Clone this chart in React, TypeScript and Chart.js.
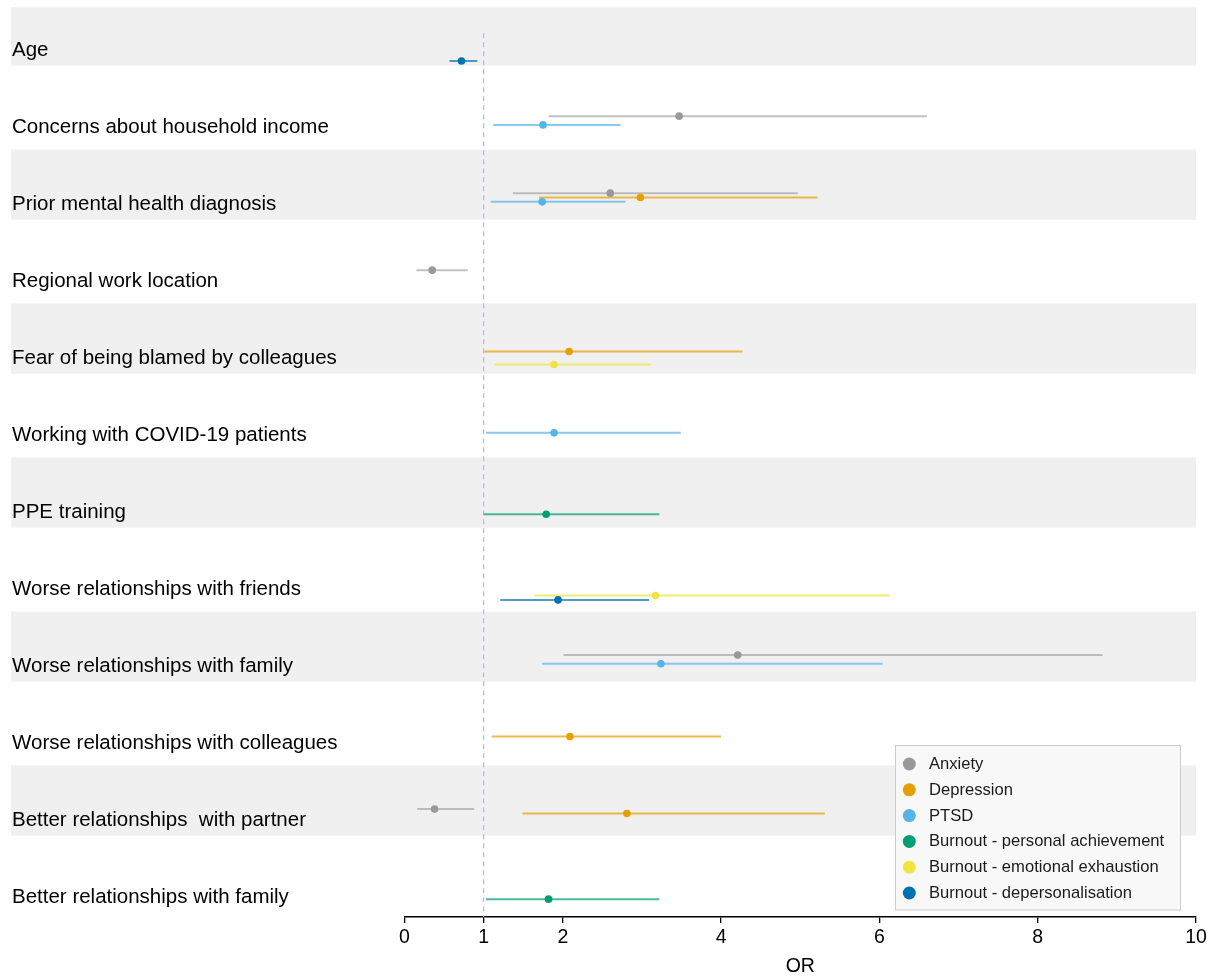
import React, { useEffect, useRef } from "react";
import { Chart, registerables } from "chart.js";

Chart.register(...registerables);

const FONT = "'Liberation Sans', Arial, Helvetica, sans-serif";

const categories = [
  "Age",
  "Concerns about household income",
  "Prior mental health diagnosis",
  "Regional work location",
  "Fear of being blamed by colleagues",
  "Working with COVID-19 patients",
  "PPE training",
  "Worse relationships with friends",
  "Worse relationships with family",
  "Worse relationships with colleagues",
  "Better relationships  with partner",
  "Better relationships with family",
];

const xTicks = [0, 1, 2, 4, 6, 8, 10];
const xTitle = "OR";

const seriesNames = [
  "Anxiety",
  "Depression",
  "PTSD",
  "Burnout - personal achievement",
  "Burnout - emotional exhaustion",
  "Burnout - depersonalisation",
];
const seriesColors = ["#999999", "#E69F00", "#56B4E9", "#009E73", "#F0E442", "#0072B2"];
const lineColors = [
  "rgba(153,153,153,0.6)",
  "rgba(230,159,0,0.7)",
  "rgba(86,180,233,0.7)",
  "rgba(0,158,115,0.7)",
  "rgba(240,228,66,0.75)",
  "rgba(0,114,178,0.7)",
];

const N = null;
const anxietyOR = [N, 3.47, 2.6, 0.35, N, N, N, N, 4.21, N, 0.38, N];
const anxietyLo = [N, 1.82, 1.37, 0.15, N, N, N, N, 2.01, N, 0.16, N];
const anxietyHi = [N, 6.6, 4.97, 0.8, N, N, N, N, 8.82, N, 0.88, N];

const depressionOR = [N, N, 2.98, N, 2.08, N, N, N, N, 2.09, 2.81, N];
const depressionLo = [N, N, 1.7, N, 1.01, N, N, N, N, 1.1, 1.49, N];
const depressionHi = [N, N, 5.22, N, 4.27, N, N, N, N, 4.0, 5.31, N];

const ptsdOR = [N, 1.75, 1.74, N, N, 1.89, N, N, 3.24, N, N, N];
const ptsdLo = [N, 1.12, 1.09, N, N, 1.03, N, N, 1.74, N, N, N];
const ptsdHi = [N, 2.73, 2.79, N, N, 3.49, N, N, 6.04, N, N, N];

const achievementOR = [N, N, N, N, N, N, 1.79, N, N, N, N, 1.82];
const achievementLo = [N, N, N, N, N, N, 1.0, N, N, N, N, 1.03];
const achievementHi = [N, N, N, N, N, N, 3.22, N, N, N, N, 3.22];

const exhaustionOR = [N, N, N, N, 1.89, N, N, 3.17, N, N, N, N];
const exhaustionLo = [N, N, N, N, 1.14, N, N, 1.64, N, N, N, N];
const exhaustionHi = [N, N, N, N, 3.11, N, N, 6.13, N, N, N, N];

const depersOR = [0.72, N, N, N, N, N, N, 1.94, N, N, N, N];
const depersLo = [0.57, N, N, N, N, N, N, 1.21, N, N, N, N];
const depersHi = [0.92, N, N, N, N, N, N, 3.09, N, N, N, N];

const seriesOR = [anxietyOR, depressionOR, ptsdOR, achievementOR, exhaustionOR, depersOR];
const seriesLo = [anxietyLo, depressionLo, ptsdLo, achievementLo, exhaustionLo, depersLo];
const seriesHi = [anxietyHi, depressionHi, ptsdHi, achievementHi, exhaustionHi, depersHi];

const refValue = 1;

// layout constants (row units)
const ROW_STEP = 0.0566;
const Y_MIN = -0.558;
const Y_MAX = 11.26;

const bandPlugin = {
  id: "bands",
  beforeDraw(chart: any) {
    const { ctx, chartArea, scales } = chart;
    const y = scales.y;
    ctx.save();
    ctx.fillStyle = "#f0f0f0";
    for (let r = 0; r < categories.length; r += 2) {
      let top = y.getPixelForValue(r - 0.708);
      const bottom = y.getPixelForValue(r + 0.204);
      top = Math.max(top, chartArea.top);
      ctx.fillRect(11, top, chartArea.right - 11, bottom - top);
    }
    ctx.restore();
  },
};

const legendPlugin = {
  id: "customLegend",
  afterDraw(chart: any) {
    const { ctx } = chart;
    const x0 = 895.5;
    const y0 = 745.5;
    const w = 285;
    const h = 164.5;
    ctx.save();
    ctx.fillStyle = "#f8f8f8";
    ctx.fillRect(x0, y0, w, h);
    ctx.strokeStyle = "#cccccc";
    ctx.lineWidth = 1;
    ctx.strokeRect(x0, y0, w, h);
    ctx.font = `16.6px ${FONT}`;
    ctx.textBaseline = "middle";
    ctx.textAlign = "left";
    seriesNames.forEach((name, i) => {
      const cy = 764 + i * 25.8;
      ctx.beginPath();
      ctx.fillStyle = seriesColors[i];
      ctx.arc(909.3, cy, 6.5, 0, Math.PI * 2);
      ctx.fill();
      ctx.fillStyle = "#1a1a1a";
      ctx.fillText(name, 929, cy + 0.5);
    });
    ctx.restore();
  },
};

export default function App() {
  const ref = useRef<HTMLCanvasElement | null>(null);

  useEffect(() => {
    if (!ref.current) return;
    const datasets: any[] = [];

    datasets.push({
      label: "ref",
      data: [
        { x: refValue, y: -0.217 },
        { x: refValue, y: Y_MAX },
      ],
      showLine: true,
      borderColor: "#b4b4f5",
      borderWidth: 1.2,
      borderDash: [5, 4],
      pointRadius: 0,
      order: 3,
    });

    seriesNames.forEach((name, k) => {
      const off = (k - 2.5) * ROW_STEP;
      const ci: any[] = [];
      const pts: any[] = [];
      categories.forEach((_, r) => {
        const v = seriesOR[k][r];
        if (v === null) return;
        ci.push({ x: seriesLo[k][r], y: r + off });
        ci.push({ x: seriesHi[k][r], y: r + off });
        ci.push({ x: null, y: null });
        pts.push({ x: v, y: r + off });
      });
      datasets.push({
        label: name + " CI",
        data: ci,
        showLine: true,
        spanGaps: false,
        borderColor: lineColors[k],
        borderWidth: 2,
        pointRadius: 0,
        order: 2,
      });
      datasets.push({
        label: name,
        data: pts,
        showLine: false,
        pointRadius: 3.8,
        pointBackgroundColor: seriesColors[k],
        pointBorderWidth: 0,
        borderColor: seriesColors[k],
        order: 1,
      });
    });

    const chart = new Chart(ref.current, {
      type: "scatter",
      data: { datasets },
      options: {
        animation: false,
        responsive: false,
        devicePixelRatio: 1,
        events: [],
        layout: { padding: { left: 12, top: 0, right: 16, bottom: 0 } },
        plugins: {
          legend: { display: false },
          tooltip: { enabled: false },
        },
        scales: {
          x: {
            type: "linear",
            min: 0,
            max: 10,
            afterBuildTicks: (s: any) => {
              s.ticks = xTicks.map((v) => ({ value: v }));
            },
            afterFit: (s: any) => {
              s.height = 61;
            },
            grid: {
              drawOnChartArea: false,
              drawTicks: true,
              tickLength: 6,
              tickColor: "#000",
              lineWidth: 1.3,
            },
            border: { display: true, color: "#000", width: 1.5 },
            ticks: {
              autoSkip: false,
              maxRotation: 0,
              padding: 3,
              color: "#000",
              font: { size: 19.5, family: FONT },
            },
            title: {
              display: true,
              text: xTitle,
              color: "#000",
              font: { size: 19.5, family: FONT },
              padding: { top: 0, bottom: 0 },
            },
          },
          y: {
            type: "linear",
            reverse: true,
            min: Y_MIN,
            max: Y_MAX,
            afterBuildTicks: (s: any) => {
              s.ticks = categories.map((_, i) => ({ value: i }));
            },
            afterFit: (s: any) => {
              s.width = 392.5;
            },
            grid: { display: false },
            border: { display: false },
            ticks: {
              autoSkip: false,
              crossAlign: "far",
              color: "#000",
              font: { size: 20.5, family: FONT, lineHeight: 0.4 },
              callback: (v: any) => categories[v] ?? "",
            },
          },
        },
      },
      plugins: [bandPlugin, legendPlugin],
    } as any);

    return () => chart.destroy();
  }, []);

  return (
    <div style={{ position: "absolute", left: 0, top: 0, width: 1212, height: 978 }}>
      <canvas ref={ref} width={1212} height={978} style={{ display: "block" }} />
    </div>
  );
}
